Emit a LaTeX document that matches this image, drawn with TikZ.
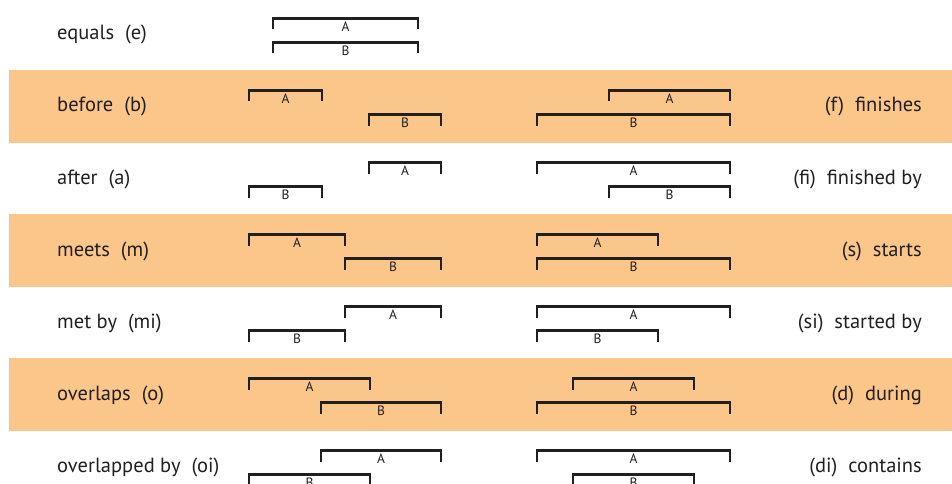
\documentclass[tikz,border=0pt]{standalone}
\usepackage{fontspec}
\setsansfont{PT Sans}
\usetikzlibrary{positioning}
\definecolor{bandorange}{RGB}{251,198,138}
\definecolor{bardark}{RGB}{35,31,32}
\begin{document}
\begin{tikzpicture}[x=1pt,y=-1pt,font=\sffamily,
  band/.style={fill=bandorange,draw=none},
  ivl/.style={draw=bardark,line width=2.6pt,line join=miter},
  ivltext/.style={font=\sffamily\fontsize{13.5}{13.5}\selectfont,text=bardark,inner sep=0pt},
  rel/.style={font=\sffamily\fontsize{20.5}{20.5}\selectfont,text=bardark,inner sep=0pt}]
\useasboundingbox (0,0) rectangle (952,484);
% shaded rows
\foreach \k in {1,3,5} \fill[band] (9,{-2+72*\k}) rectangle (952,{71+72*\k});
% relation names, left and right
\foreach \k/\nm/\txt in {0/le/equals\ \ (e),1/lb/before\ \ (b),2/la/after\ \ (a),3/lm/meets\ \ (m),
    4/lmi/met by\ \ (mi),5/lo/overlaps\ \ (o),6/loi/overlapped by\ \ (oi)}
  \node[rel,anchor=base west] (\nm) at (57,{40+72*\k}) {\txt};
\foreach \k/\nm/\txt in {1/rf/(f)\ \ finishes,2/rfi/(fi)\ \ finished by,3/rs/(s)\ \ starts,
    4/rsi/(si)\ \ started by,5/rd/(d)\ \ during,6/rdi/(di)\ \ contains}
  \node[rel,anchor=base east] (\nm) at (922,{40+72*\k}) {\txt};
% intervals: name / left / right / top / label
\foreach \nm/\xa/\xb/\yy/\lb in {
    eA/273/418/17/A, eB/273/418/41/B,
    bA/249/322/89/A, bB/369/441/113/B,
    aA/369/441/161/A, aB/249/322/185/B,
    mA/249/345/233/A, mB/345/441/257/B,
    miA/345/441/305/A, miB/249/345/329/B,
    oA/249/370/377/A, oB/321/441/401/B,
    oiA/321/441/449/A, oiB/249/370/473/B,
    fA/609/730/89/A, fB/537/730/113/B,
    fiA/537/730/161/A, fiB/609/730/185/B,
    sA/537/658/233/A, sB/537/730/257/B,
    siA/537/730/305/A, siB/537/658/329/B,
    dA/573/694/377/A, dB/537/730/401/B,
    diA/537/730/449/A, diB/573/694/473/B}{
  \draw[ivl] (\xa,\yy+12.5) -- (\xa,\yy+1.3) -- (\xb,\yy+1.3) -- (\xb,\yy+12.5);
  \node[ivltext] (\nm) at ({(\xa+\xb)/2},\yy+10) {\lb};
}
\end{tikzpicture}
\end{document}
